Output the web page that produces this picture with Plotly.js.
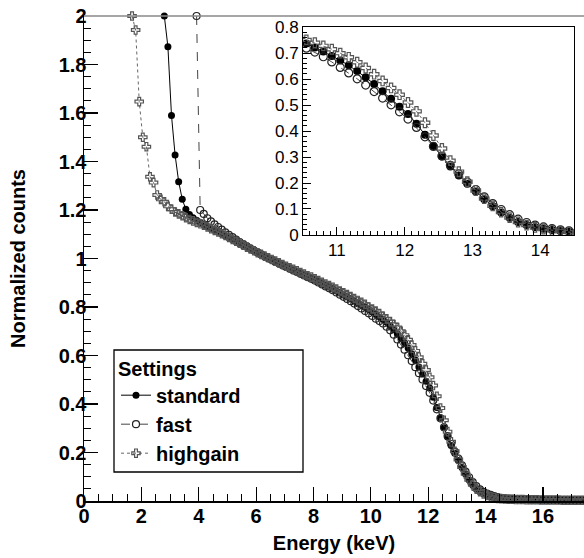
<!DOCTYPE html>
<html>
<head>
<meta charset="utf-8">
<script src="https://cdn.plot.ly/plotly-3.0.1.min.js"></script>
<style>html,body{margin:0;padding:0;background:#fff;}#chart{width:584px;height:558px;}</style>
</head>
<body>
<div id="chart"></div>
<script>
// Energy bin centres (keV)
const energy = [
  1.675, 1.8, 1.925, 2.05, 2.175, 2.3, 2.425, 2.55, 2.675, 2.8,
  2.925, 3.05, 3.175, 3.3, 3.425, 3.55, 3.675, 3.8, 3.925, 4.05,
  4.175, 4.3, 4.425, 4.55, 4.675, 4.8, 4.925, 5.05, 5.175, 5.3,
  5.425, 5.55, 5.675, 5.8, 5.925, 6.05, 6.175, 6.3, 6.425, 6.55,
  6.675, 6.8, 6.925, 7.05, 7.175, 7.3, 7.425, 7.55, 7.675, 7.8,
  7.925, 8.05, 8.175, 8.3, 8.425, 8.55, 8.675, 8.8, 8.925, 9.05,
  9.175, 9.3, 9.425, 9.55, 9.675, 9.8, 9.925, 10.05, 10.175, 10.3,
  10.425, 10.55, 10.675, 10.8, 10.925, 11.05, 11.175, 11.3, 11.425, 11.55,
  11.675, 11.8, 11.925, 12.05, 12.175, 12.3, 12.425, 12.55, 12.675, 12.8,
  12.925, 13.05, 13.175, 13.3, 13.425, 13.55, 13.675, 13.8, 13.925, 14.05,
  14.175, 14.3, 14.425, 14.55, 14.675, 14.8, 14.925, 15.05, 15.175, 15.3,
  15.425, 15.55, 15.675, 15.8, 15.925, 16.05, 16.175, 16.3, 16.425, 16.55,
  16.675, 16.8, 16.925, 17.05, 17.175, 17.3, 17.425
];

const standardCounts = [
  null, null, null, null, null, null, null, null, null, 2.0,
  1.873, 1.59, 1.427, 1.317, 1.244, 1.203, 1.181, 1.168, 1.158, 1.149,
  1.140, 1.132, 1.124, 1.117, 1.110, 1.102, 1.094, 1.086, 1.078, 1.069,
  1.061, 1.053, 1.046, 1.038, 1.031, 1.023, 1.016, 1.008, 1.001, 0.994,
  0.987, 0.980, 0.973, 0.966, 0.960, 0.953, 0.946, 0.940, 0.933, 0.926,
  0.919, 0.912, 0.905, 0.897, 0.890, 0.882, 0.874, 0.866, 0.858, 0.850,
  0.842, 0.834, 0.825, 0.816, 0.807, 0.799, 0.790, 0.780, 0.770, 0.759,
  0.748, 0.737, 0.722, 0.706, 0.689, 0.672, 0.653, 0.631, 0.607, 0.581,
  0.553, 0.524, 0.494, 0.466, 0.428, 0.386, 0.343, 0.302, 0.264, 0.229,
  0.197, 0.167, 0.138, 0.111, 0.087, 0.066, 0.050, 0.038, 0.030, 0.024,
  0.019, 0.015, 0.012, 0.010, 0.009, 0.008, 0.007, 0.007, 0.006, 0.006,
  0.006, 0.005, 0.005, 0.005, 0.005, 0.005, 0.004, 0.004, 0.004, 0.004,
  0.004, 0.004, 0.004, 0.003, 0.003, 0.003, 0.003
];

const fastCounts = [
  null, null, null, null, null, null, null, null, null, null,
  null, null, null, null, null, null, null, null, 2.0, 1.200,
  1.184, 1.166, 1.153, 1.141, 1.130, 1.119, 1.108, 1.098, 1.088, 1.078,
  1.068, 1.059, 1.050, 1.041, 1.033, 1.025, 1.017, 1.009, 1.001, 0.994,
  0.986, 0.979, 0.972, 0.965, 0.958, 0.951, 0.944, 0.937, 0.930, 0.923,
  0.916, 0.909, 0.901, 0.893, 0.885, 0.877, 0.869, 0.860, 0.851, 0.842,
  0.833, 0.824, 0.814, 0.804, 0.794, 0.784, 0.774, 0.763, 0.752, 0.742,
  0.732, 0.719, 0.704, 0.686, 0.666, 0.645, 0.624, 0.601, 0.577, 0.552,
  0.527, 0.501, 0.474, 0.446, 0.414, 0.378, 0.341, 0.304, 0.268, 0.235,
  0.204, 0.175, 0.147, 0.121, 0.098, 0.078, 0.061, 0.048, 0.038, 0.031,
  0.025, 0.020, 0.016, 0.013, 0.011, 0.010, 0.009, 0.008, 0.008, 0.007,
  0.007, 0.006, 0.006, 0.006, 0.005, 0.005, 0.005, 0.005, 0.005, 0.004,
  0.004, 0.004, 0.004, 0.004, 0.004, 0.004, 0.004
];

const highgainCounts = [
  2.0, 1.942, 1.647, 1.500, 1.461, 1.337, 1.313, 1.262, 1.244, 1.234,
  1.215, 1.203, 1.192, 1.184, 1.176, 1.168, 1.161, 1.155, 1.149, 1.143,
  1.137, 1.130, 1.123, 1.116, 1.109, 1.102, 1.095, 1.087, 1.079, 1.071,
  1.063, 1.055, 1.047, 1.039, 1.032, 1.024, 1.017, 1.010, 1.003, 0.996,
  0.989, 0.982, 0.975, 0.968, 0.962, 0.955, 0.949, 0.942, 0.936, 0.929,
  0.923, 0.916, 0.909, 0.902, 0.895, 0.888, 0.881, 0.874, 0.866, 0.859,
  0.851, 0.843, 0.835, 0.827, 0.819, 0.811, 0.800, 0.792, 0.783, 0.773,
  0.762, 0.751, 0.740, 0.728, 0.715, 0.700, 0.684, 0.665, 0.643, 0.619,
  0.593, 0.566, 0.540, 0.510, 0.476, 0.432, 0.383, 0.333, 0.286, 0.244,
  0.205, 0.171, 0.140, 0.112, 0.088, 0.067, 0.050, 0.038, 0.029, 0.023,
  0.018, 0.014, 0.011, 0.009, 0.008, 0.007, 0.007, 0.006, 0.006, 0.006,
  0.005, 0.005, 0.005, 0.005, 0.004, 0.004, 0.004, 0.004, 0.004, 0.004,
  0.003, 0.003, 0.003, 0.003, 0.003, 0.003, 0.003
];

const seriesNames = ['standard', 'fast', 'highgain'];
const legendTitle = 'Settings';
const xTitle = 'Energy (keV)';
const yTitle = 'Normalized counts';

const FONT = 'Liberation Sans, Arial, Helvetica, sans-serif';

const styles = [
  {line: {color: '#000', width: 1, dash: 'solid'}, marker: {symbol: 'circle', size: 7, color: '#000', line: {width: 0}}},
  {line: {color: '#444', width: 1, dash: 'dash'}, marker: {symbol: 'circle-open', size: 7, color: '#222', line: {width: 1.2, color: '#222'}}},
  {line: {color: '#666', width: 1, dash: 'dot'}, marker: {symbol: 'cross-open', size: 7, color: '#555', line: {width: 1.2, color: '#555'}}}
];
const ys = [standardCounts, fastCounts, highgainCounts];

const traces = [];
ys.forEach((y, i) => {
  traces.push({
    x: energy, y: y, name: seriesNames[i], type: 'scatter', mode: 'lines+markers',
    line: styles[i].line, marker: styles[i].marker, cliponaxis: false,
    xaxis: 'x', yaxis: 'y'
  });
});
ys.forEach((y, i) => {
  traces.push({
    x: energy, y: y, name: seriesNames[i], type: 'scatter', mode: 'lines+markers',
    line: styles[i].line, marker: Object.assign({}, styles[i].marker, {size: styles[i].marker.size + 1}),
    showlegend: false, xaxis: 'x2', yaxis: 'y2'
  });
});

const layout = {
  width: 584, height: 558,
  margin: {l: 84, r: 0, t: 16, b: 57},
  paper_bgcolor: '#fff', plot_bgcolor: '#fff',
  font: {family: FONT, color: '#000'},
  showlegend: true,
  legend: {
    x: 0.064, y: 0.312, xanchor: 'left', yanchor: 'top',
    bgcolor: 'rgba(0,0,0,0)', borderwidth: 0,
    title: {text: '<b>' + legendTitle + '</b>', font: {size: 20, family: FONT}},
    font: {size: 20, family: FONT, weight: 'bold'},
    tracegroupgap: 0, itemwidth: 30
  },
  xaxis: {
    domain: [0, 1], range: [0, 17.43], anchor: 'y',
    showgrid: false, zeroline: false, showline: true, linecolor: '#000', linewidth: 1.5,
    ticks: 'inside', ticklen: 14, tickwidth: 1.2, tickcolor: '#000', dtick: 2, tick0: 0,
    ticklabelstandoff: -4,
    tickfont: {size: 20, family: FONT, weight: 'bold'},
    minor: {dtick: 0.5, ticks: 'inside', ticklen: 7, tickwidth: 1, tickcolor: '#000'},
    title: {text: '<b>' + xTitle + '</b>', font: {size: 20, family: FONT}, standoff: 10}
  },
  yaxis: {
    domain: [0, 1], range: [0, 2], anchor: 'x',
    showgrid: false, zeroline: false, showline: true, linecolor: '#000', linewidth: 1.5,
    ticks: 'inside', ticklen: 14, tickwidth: 1.2, tickcolor: '#000', dtick: 0.2, tick0: 0,
    ticklabelstandoff: -8,
    tickfont: {size: 20, family: FONT, weight: 'bold'},
    minor: {dtick: 0.05, ticks: 'inside', ticklen: 7, tickwidth: 1, tickcolor: '#000'},
    title: {text: '<b>' + yTitle + '</b>', font: {size: 20, family: FONT}, standoff: 27}
  },
  xaxis2: {
    domain: [0.438, 0.98], range: [10.5, 14.5], anchor: 'y2',
    showgrid: false, zeroline: false, showline: true, mirror: true, linecolor: '#000', linewidth: 1,
    ticks: 'inside', ticklen: 8, tickwidth: 1, tickcolor: '#000', dtick: 1, tick0: 0,
    tickfont: {size: 17, family: FONT},
    minor: {dtick: 0.1, ticks: 'inside', ticklen: 4, tickwidth: 1, tickcolor: '#000'}
  },
  yaxis2: {
    domain: [0.5485, 0.977], range: [0, 0.8], anchor: 'x2',
    showgrid: false, zeroline: false, showline: true, mirror: true, linecolor: '#000', linewidth: 1,
    ticks: 'inside', ticklen: 8, tickwidth: 1, tickcolor: '#000', dtick: 0.1, tick0: 0,
    tickfont: {size: 17, family: FONT},
    minor: {dtick: 0.02, ticks: 'inside', ticklen: 4, tickwidth: 1, tickcolor: '#000'}
  },
  shapes: [
    // top frame line
    {type: 'line', xref: 'paper', yref: 'paper', x0: 0, x1: 1, y0: 1, y1: 1, line: {color: '#888', width: 1.5}},
    // legend box
    {type: 'rect', xref: 'paper', yref: 'paper', x0: 0.06, x1: 0.438, y0: 0.0598, y1: 0.3113,
     line: {color: '#000', width: 1.3}, fillcolor: 'rgba(0,0,0,0)', layer: 'above'}
  ]
};

Plotly.newPlot('chart', traces, layout, {staticPlot: true, displayModeBar: false});
</script>
</body>
</html>
